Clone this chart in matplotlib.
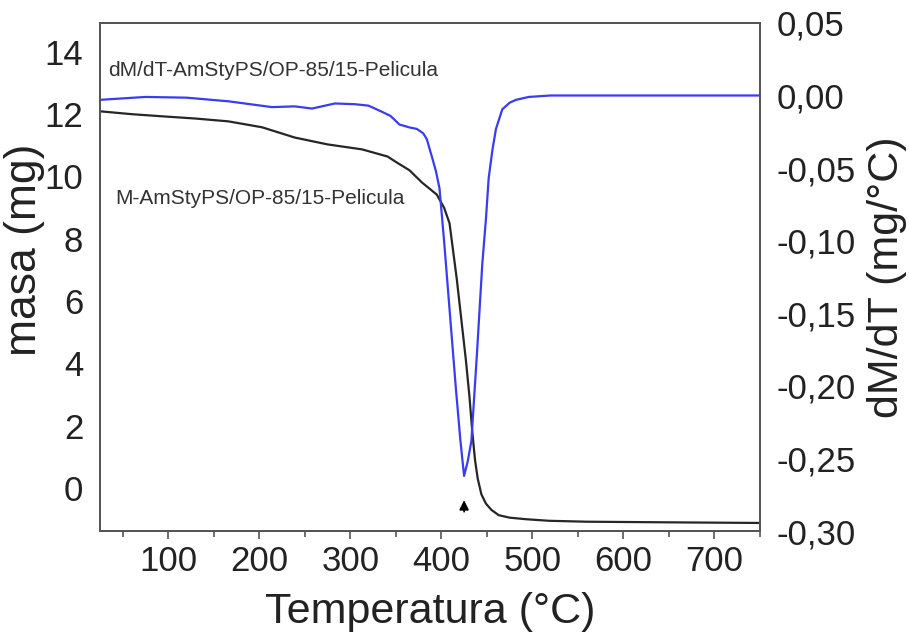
import numpy as np
import matplotlib
matplotlib.use("Agg")
import matplotlib.pyplot as plt
from matplotlib.ticker import MultipleLocator, FixedLocator

plt.rcParams['font.family'] = ['Liberation Sans', 'DejaVu Sans']

# curva de masa (TG)
temp_m = [26, 60, 94, 130, 166, 203, 239, 275, 313, 341, 351, 365, 379, 395, 403,
          409, 413, 417, 422, 427, 431, 434, 437, 440, 444, 449, 455, 463, 475,
          493, 518, 560, 650, 750]
masa = [12.09, 12.0, 11.93, 11.86, 11.77, 11.58, 11.25, 11.03, 10.87, 10.64, 10.45,
        10.2, 9.8, 9.42, 9.0, 8.5, 7.6, 6.7, 5.4, 4.1, 2.9, 1.8, 0.9, 0.3, -0.2,
        -0.5, -0.7, -0.87, -0.95, -1.0, -1.05, -1.08, -1.1, -1.12]

# curva derivada (DTG)
temp_d = [25, 50, 75, 120, 166, 190, 214, 239, 258, 283, 305, 320, 334, 344, 354,
          365, 373, 380, 384, 390, 394, 398, 403, 410, 416, 421, 425, 429, 433,
          439, 445, 449, 452, 456, 460, 467, 475, 482, 496, 520, 600, 750]
dmdt = [-0.003, -0.002, -0.001, -0.0015, -0.004, -0.006, -0.008, -0.0075, -0.009,
        -0.0055, -0.006, -0.007, -0.011, -0.014, -0.020, -0.022, -0.023, -0.026,
        -0.030, -0.043, -0.052, -0.064, -0.100, -0.155, -0.202, -0.238, -0.262,
        -0.252, -0.238, -0.179, -0.116, -0.085, -0.057, -0.038, -0.023, -0.0095,
        -0.005, -0.003, -0.001, 0.0, 0.0, 0.0]

etiquetas_der = ['-0,30', '-0,25', '-0,20', '-0,15', '-0,10', '-0,05', '0,00', '0,05']
pico = 425

fig = plt.figure(figsize=(9.09, 6.36), dpi=100)
ax = fig.add_axes([0.110, 0.165, 0.726, 0.799])
ax2 = ax.twinx()

ax.plot(temp_m, masa, color='#262626', lw=1.6)
ax2.plot(temp_d, dmdt, color='#3b3bf0', lw=1.6)

ax.set_xlim(25, 750)
ax.set_xticks([100, 200, 300, 400, 500, 600, 700])
ax.xaxis.set_minor_locator(MultipleLocator(50))
ax.yaxis.set_major_locator(MultipleLocator(2))
ax.set_ylim(-1.38, 14.93)
ax2.yaxis.set_major_locator(FixedLocator([-0.30, -0.25, -0.20, -0.15, -0.10, -0.05, 0.0, 0.05]))
ax2.set_yticklabels(etiquetas_der)
ax2.set_ylim(-0.3, 0.05)

ax.tick_params(axis='x', which='major', direction='out', length=6, width=1.2,
               labelsize=25, colors='#555555', labelcolor='#222222', pad=4)
ax.tick_params(axis='x', which='minor', direction='out', length=4, width=1.2, colors='#555555')
ax.tick_params(axis='y', length=0, labelsize=25, labelcolor='#222222', pad=12)
ax2.tick_params(axis='y', length=0, labelsize=25, labelcolor='#222222', pad=12)

for s in list(ax.spines.values()) + list(ax2.spines.values()):
    s.set_color('#555555')
    s.set_linewidth(1.4)

ax.set_xlabel('Temperatura (°C)', fontsize=31, color='#222222')
ax.xaxis.set_label_coords(0.5, -0.12)
ax.set_ylabel('masa (mg)', fontsize=32, color='#222222')
ax.yaxis.set_label_coords(-0.084, 0.553)
ax2.set_ylabel('dM/dT (mg/°C)', fontsize=31, color='#222222', labelpad=8)

ax.text(34, 13.4, 'dM/dT-AmStyPS/OP-85/15-Pelicula', fontsize=15, color='#333333', va='center')
ax.text(42, 9.3, 'M-AmStyPS/OP-85/15-Pelicula', fontsize=15, color='#333333', va='center')

ax.annotate('', xy=(pico, -0.3), xytext=(pico, -0.85),
            arrowprops=dict(arrowstyle='-|>', color='black', lw=1.2, mutation_scale=14))

fig.savefig('out.png', dpi=100)
